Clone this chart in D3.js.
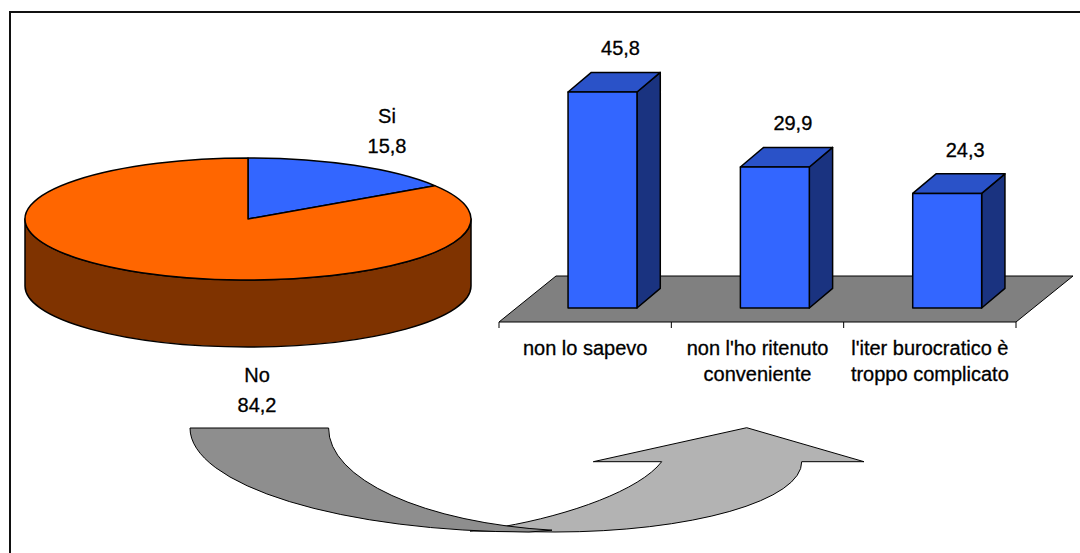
<!DOCTYPE html>
<html>
<head>
<meta charset="utf-8">
<script src="https://cdn.jsdelivr.net/npm/d3@7"></script>
<style>
  html, body { margin: 0; padding: 0; background: #fff; }
  svg { display: block; }
  text { font-family: "Liberation Sans", Arial, sans-serif; font-size: 20px; fill: #000; stroke: #000; stroke-width: 0.3px; }
</style>
</head>
<body>
<svg id="chart" width="1080" height="553"></svg>
<script>
// Pie: share of respondents
const pieLabels = ["Si", "No"];
const pieValues = [15.8, 84.2];

// Bars: reasons given by those who answered "No"
const barCategories = [
  "non lo sapevo",
  "non l'ho ritenuto\nconveniente",
  "l'iter burocratico è\ntroppo complicato"
];
const barValues = [45.8, 29.9, 24.3];

const svg = d3.select("#chart");
const itFmt = d3.formatLocale({ decimal: ",", thousands: ".", grouping: [3], currency: ["€", ""] }).format(".1f");

// ---------- frame ----------
svg.append("path")
  .attr("d", "M10,553 V12 H1080")
  .attr("fill", "none").attr("stroke", "#111").attr("stroke-width", 2);

// ---------- curved arrow (from the "No" slice to the bars) ----------
const arrow = svg.append("g").attr("stroke", "#000").attr("stroke-width", 1).attr("stroke-linejoin", "miter");
arrow.append("path")
  .attr("fill", "#b3b3b3")
  .attr("d", "M661.7,461.7 C640,490 570,515 502.7,526.7 L470,531 L555,532 " +
             "A246.7,70 0 0 0 801.7,461.7 L864,461.7 L746.7,427.7 L593.3,461.7 Z");
arrow.append("path")
  .attr("fill", "#8e8e8e")
  .attr("d", "M190,428 L328.6,428 A261.4,103 0 0 0 552,530.2 L529,532 A339,104 0 0 1 190,428 Z");

// ---------- 3D pie ----------
const pc = { cx: 248, cy: 219, rx: 223, ry: 61, depth: 67 };
const pieColors = { "Si": "#3366ff", "No": "#ff6600" };
const sideColors = { "Si": "#1a3380", "No": "#7f3300" };

const arcs = d3.pie().sort(null).value(d => d.value)
  (pieLabels.map((l, i) => ({ label: l, value: pieValues[i] })));

const pt = (a, dy = 0) => [pc.cx + pc.rx * Math.sin(a), pc.cy - pc.ry * Math.cos(a) + dy];
const pieG = svg.append("g").attr("stroke", "#000").attr("stroke-width", 1.5).attr("stroke-linejoin", "round");

// side walls: only the part of each slice facing the viewer (angles between pi/2 and 3pi/2)
arcs.forEach(s => {
  const a0 = Math.max(s.startAngle, Math.PI / 2);
  const a1 = Math.min(s.endAngle, 3 * Math.PI / 2);
  if (a1 <= a0) return;
  const p0 = pt(a0), p1 = pt(a1), q1 = pt(a1, pc.depth), q0 = pt(a0, pc.depth);
  const large = (a1 - a0) > Math.PI ? 1 : 0;
  pieG.append("path")
    .attr("fill", sideColors[s.data.label])
    .attr("d", `M${p0} A${pc.rx},${pc.ry} 0 ${large} 1 ${p1} L${q1} A${pc.rx},${pc.ry} 0 ${large} 0 ${q0} Z`);
});

// top faces
arcs.forEach(s => {
  const p0 = pt(s.startAngle), p1 = pt(s.endAngle);
  const large = (s.endAngle - s.startAngle) > Math.PI ? 1 : 0;
  pieG.append("path")
    .attr("fill", pieColors[s.data.label])
    .attr("d", `M${pc.cx},${pc.cy} L${p0} A${pc.rx},${pc.ry} 0 ${large} 1 ${p1} Z`);
});

// pie labels
const pieLabelAt = { "Si": [387, 123], "No": [257, 382] };
arcs.forEach(s => {
  const [lx, ly] = pieLabelAt[s.data.label];
  const t = svg.append("text").attr("text-anchor", "middle");
  t.append("tspan").attr("x", lx).attr("y", ly).text(s.data.label);
  t.append("tspan").attr("x", lx).attr("y", ly + 30).text(itFmt(s.data.value));
});

// ---------- 3D column chart ----------
const floorY = 322, floorDX = 57, floorDY = -46;
const x = d3.scaleBand().domain(barCategories).range([499, 1016]).padding(0);
const barW = x.bandwidth() * 0.4;
const inset = 14 / 46;                    // how far into the floor the column fronts sit
const shiftX = floorDX * inset;
const baseY = floorY + floorDY * inset;
const barDX = 23.3, barDY = -19.6;
const y = d3.scaleLinear().domain([0, 50]).range([baseY, baseY - 235.8]);

// floor
const [fx0, fx1] = x.range();
svg.append("path")
  .attr("fill", "#808080").attr("stroke", "#000").attr("stroke-width", 1)
  .attr("d", `M${fx0},${floorY} L${fx1},${floorY} L${fx1 + floorDX},${floorY + floorDY} L${fx0 + floorDX},${floorY + floorDY} Z`);

// category ticks
const tickXs = barCategories.map(c => x(c)).concat([fx1]);
svg.append("g").selectAll("line").data(tickXs).join("line")
  .attr("x1", d => d).attr("x2", d => d)
  .attr("y1", floorY).attr("y2", floorY + 6)
  .attr("stroke", "#000").attr("stroke-width", 1);

// columns
const bars = svg.append("g").attr("stroke", "#000").attr("stroke-width", 1.5).attr("stroke-linejoin", "round");
barCategories.forEach((c, i) => {
  const v = barValues[i];
  const x0 = x(c) + (x.bandwidth() - barW) / 2 + shiftX;
  const x1 = x0 + barW;
  const yt = y(v);
  const g = bars.append("g");
  g.append("path").attr("fill", "#1a3380")
    .attr("d", `M${x1},${yt} L${x1 + barDX},${yt + barDY} L${x1 + barDX},${baseY + barDY} L${x1},${baseY} Z`);
  g.append("path").attr("fill", "#2a52c8")
    .attr("d", `M${x0},${yt} L${x0 + barDX},${yt + barDY} L${x1 + barDX},${yt + barDY} L${x1},${yt} Z`);
  g.append("rect").attr("fill", "#3366ff")
    .attr("x", x0).attr("y", yt).attr("width", barW).attr("height", baseY - yt);

  svg.append("text").attr("text-anchor", "middle")
    .attr("x", (x0 + x1) / 2 + 18).attr("y", yt + barDY - 17)
    .text(itFmt(v));
});

// category labels
barCategories.forEach(c => {
  const t = svg.append("text").attr("text-anchor", "middle");
  c.split("\n").forEach((line, j) => {
    t.append("tspan").attr("x", x(c) + x.bandwidth() / 2).attr("y", 354.5 + j * 26).text(line);
  });
});
</script>
</body>
</html>
